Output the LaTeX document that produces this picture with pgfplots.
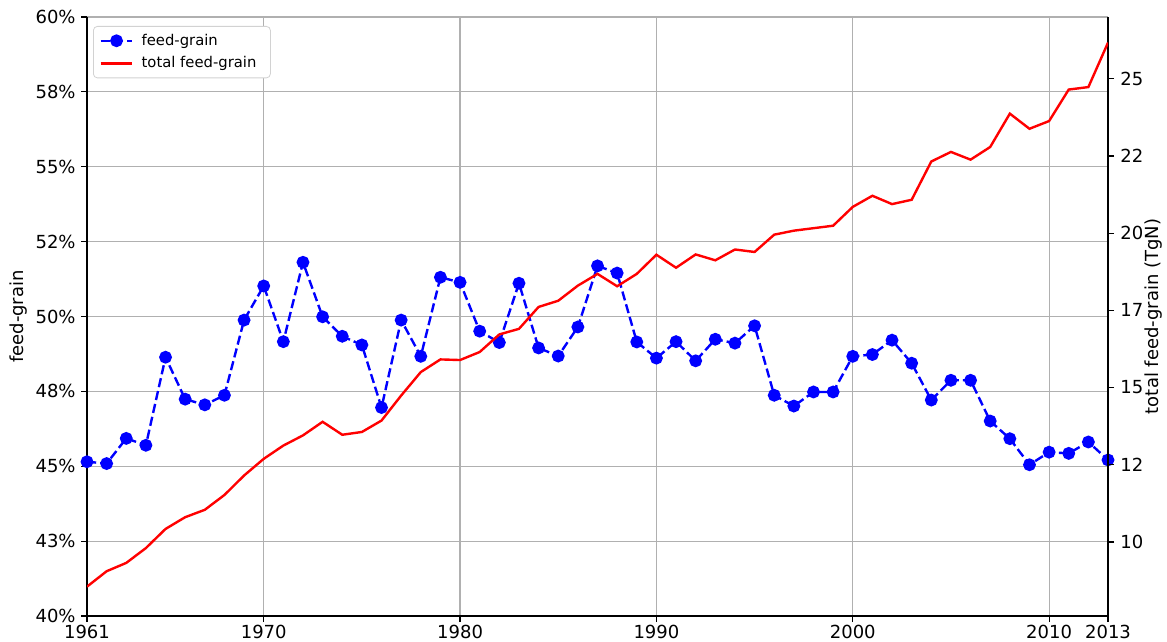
\documentclass[border=0pt]{standalone}
\usepackage{pgfplots}
\pgfplotsset{compat=1.18}
\usepackage{fontspec}
\setmainfont{DejaVu Sans}
\definecolor{gridgray}{HTML}{B0B0B0}
\definecolor{mplblue}{HTML}{0000FF}
\definecolor{mplred}{HTML}{FF0000}
\begin{document}
\fontsize{9}{10.8}\selectfont
\begin{tikzpicture}
\pgfplotsset{
  every axis/.append style={
    scale only axis, width=510.5pt, height=299.5pt,
    xmin=1961, xmax=2013,
    tick align=outside, major tick length=3pt,
    axis line style={line width=0.6pt},
    every tick/.style={black, line width=0.6pt},
    /pgf/number format/assume math mode=true,
    /pgf/number format/1000 sep={},
    tick label style={font=\fontsize{9}{10.8}\selectfont},
    label style={font=\fontsize{9}{10.8}\selectfont},
  }
}
\begin{axis}[
  name=main,
  axis y line*=left, axis x line*=bottom,
  ymin=40, ymax=60,
  ytick={40,42.5,45,47.5,50,52.5,55,57.5,60},
  yticklabels={40\%,43\%,45\%,48\%,50\%,52\%,55\%,58\%,60\%},
  xtick={1961,1970,1980,1990,2000,2010,2013},
  xticklabels={1961,1970,1980,1990,2000,2010,2013},
  grid=major, major grid style={gridgray, line width=0.6pt},
  ylabel={feed-grain},
  ylabel style={at={(axis description cs:-0.0671,0.5)}, anchor=center},
  yticklabel style={xshift=0.5pt},
  xticklabel style={inner ysep=0.8pt, yshift=-0.6pt},
]
\addplot[mplblue, line width=1.2pt, dash pattern=on 4.6pt off 2pt, mark=*, mark size=2.6pt, mark options={solid, draw=mplblue, fill=mplblue}] coordinates {
(1961,45.15) (1962,45.09) (1963,45.93) (1964,45.70) (1965,48.64) (1966,47.24) (1967,47.05) (1968,47.37) (1969,49.88) (1970,51.02)
(1971,49.16) (1972,51.81) (1973,49.99) (1974,49.34) (1975,49.05) (1976,46.96) (1977,49.88) (1978,48.67) (1979,51.31) (1980,51.14)
(1981,49.51) (1982,49.13) (1983,51.11) (1984,48.95) (1985,48.68) (1986,49.65) (1987,51.69) (1988,51.45) (1989,49.15) (1990,48.61)
(1991,49.16) (1992,48.52) (1993,49.24) (1994,49.11) (1995,49.69) (1996,47.37) (1997,47.01) (1998,47.48) (1999,47.48) (2000,48.67)
(2001,48.73) (2002,49.21) (2003,48.44) (2004,47.21) (2005,47.87) (2006,47.87) (2007,46.51) (2008,45.92) (2009,45.05) (2010,45.47)
(2011,45.43) (2012,45.81) (2013,45.21)
};
\end{axis}
\begin{axis}[
  axis y line*=right, axis x line=none,
  ymin=7.6, ymax=27.0,
  ytick={10,12.5,15,17.5,20,22.5,25},
  yticklabels={10,12,15,17,20,22,25},
  ylabel={total feed-grain (TgN)},
  ylabel style={at={(axis description cs:1.0441,0.5)}, anchor=center},
  legend cell align=left,
  legend style={at={(0,1)}, anchor=north west, xshift=3pt, yshift=-4.5pt,
    draw=gray!35, rounded corners=2pt, font=\fontsize{7.4}{9}\selectfont,
    inner xsep=3pt, inner ysep=1.5pt, row sep=0pt,
    nodes={inner xsep=4pt, inner ysep=2.2pt}},
  legend image code/.code={
    \draw[mark repeat=2,mark phase=2] plot coordinates {(0cm,0cm) (0.28cm,0cm) (0.56cm,0cm)};},
]
\addlegendimage{mplblue, line width=1.2pt, dash pattern=on 4.6pt off 2pt, mark=*, mark size=2.6pt, mark options={solid, draw=mplblue, fill=mplblue}}
\addlegendentry{feed-grain}
\addplot[mplred, line width=1.2pt, mark=none] coordinates {
(1961,8.55) (1962,9.05) (1963,9.32) (1964,9.80) (1965,10.42) (1966,10.80) (1967,11.04) (1968,11.52) (1969,12.15) (1970,12.69)
(1971,13.12) (1972,13.45) (1973,13.89) (1974,13.47) (1975,13.56) (1976,13.93) (1977,14.74) (1978,15.50) (1979,15.91) (1980,15.89)
(1981,16.15) (1982,16.72) (1983,16.90) (1984,17.61) (1985,17.81) (1986,18.30) (1987,18.68) (1988,18.28) (1989,18.68) (1990,19.30)
(1991,18.88) (1992,19.31) (1993,19.12) (1994,19.47) (1995,19.39) (1996,19.95) (1997,20.08) (1998,20.16) (1999,20.24) (2000,20.85)
(2001,21.21) (2002,20.94) (2003,21.08) (2004,22.32) (2005,22.63) (2006,22.38) (2007,22.79) (2008,23.87) (2009,23.38) (2010,23.63)
(2011,24.65) (2012,24.73) (2013,26.17)
};
\addlegendentry{total feed-grain}
\end{axis}
\pgfresetboundingbox
\path[use as bounding box] ([xshift=-43.5pt,yshift=-12.5pt]main.south west) rectangle ([xshift=29.5pt,yshift=8.5pt]main.north east);
\end{tikzpicture}
\end{document}
